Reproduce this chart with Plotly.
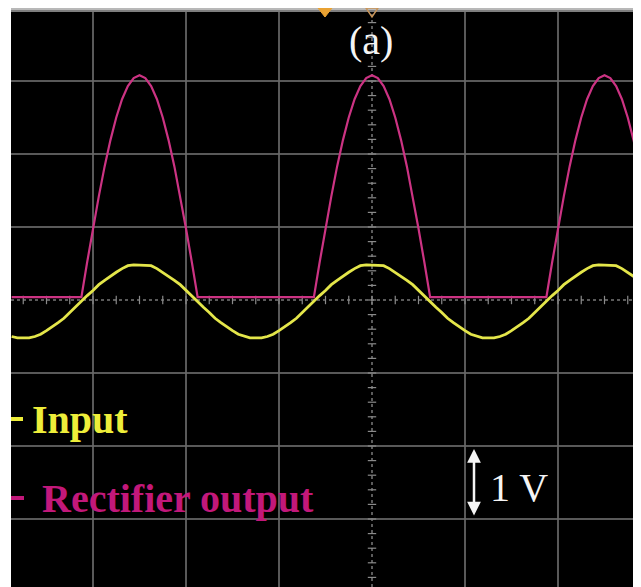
import numpy as np
import plotly.graph_objects as go

# ---------------- data (in divisions) ----------------
t_div = [
    -3.875, -3.8125, -3.75, -3.6875, -3.625, -3.5625, -3.5, -3.4375,
    -3.375, -3.3125, -3.25, -3.1875, -3.125, -3.0625, -3.0, -2.9375,
    -2.875, -2.8125, -2.75, -2.6875, -2.625, -2.5625, -2.5, -2.4375,
    -2.375, -2.3125, -2.25, -2.1875, -2.125, -2.0625, -2.0, -1.9375,
    -1.875, -1.8125, -1.75, -1.6875, -1.625, -1.5625, -1.5, -1.4375,
    -1.375, -1.3125, -1.25, -1.1875, -1.125, -1.0625, -1.0, -0.9375,
    -0.875, -0.8125, -0.75, -0.6875, -0.625, -0.5625, -0.5, -0.4375,
    -0.375, -0.3125, -0.25, -0.1875, -0.125, -0.0625, 0.0, 0.0625,
    0.125, 0.1875, 0.25, 0.3125, 0.375, 0.4375, 0.5, 0.5625,
    0.625, 0.6875, 0.75, 0.8125, 0.875, 0.9375, 1.0, 1.0625,
    1.125, 1.1875, 1.25, 1.3125, 1.375, 1.4375, 1.5, 1.5625,
    1.625, 1.6875, 1.75, 1.8125, 1.875, 1.9375, 2.0, 2.0625,
    2.125, 2.1875, 2.25, 2.3125, 2.375, 2.4375, 2.5, 2.5625,
    2.625, 2.6875, 2.75, 2.8125, 2.875,
]

input_v = [
    -0.50, -0.52, -0.52,
    -0.52, -0.50, -0.47, -0.42, -0.37, -0.31, -0.25, -0.17, -0.10, -0.02,
    0.06, 0.13, 0.21, 0.27, 0.33, 0.38, 0.43, 0.47, 0.48, 0.48,
    0.48, 0.47, 0.43, 0.38, 0.33, 0.27, 0.21, 0.13, 0.06, -0.02,
    -0.10, -0.17, -0.25, -0.31, -0.37, -0.42, -0.47, -0.50, -0.52, -0.52,
    -0.52, -0.50, -0.47, -0.42, -0.37, -0.31, -0.25, -0.17, -0.10, -0.02,
    0.06, 0.13, 0.21, 0.27, 0.33, 0.38, 0.43, 0.47, 0.48, 0.48,
    0.48, 0.47, 0.43, 0.38, 0.33, 0.27, 0.21, 0.13, 0.06, -0.02,
    -0.10, -0.17, -0.25, -0.31, -0.37, -0.42, -0.47, -0.50, -0.52, -0.52,
    -0.52, -0.50, -0.47, -0.42, -0.37, -0.31, -0.25, -0.17, -0.10, -0.02,
    0.06, 0.13, 0.21, 0.27, 0.33, 0.38, 0.43, 0.47, 0.48, 0.48,
    0.48, 0.47, 0.43, 0.38, 0.33, 0.27,
]

rectifier_v = [
    0.04, 0.04, 0.04,
    0.04, 0.04, 0.04, 0.04, 0.04, 0.04, 0.04, 0.04, 0.04, 0.04,
    0.52, 0.98, 1.42, 1.83, 2.19, 2.50, 2.75, 2.93, 3.04, 3.08,
    3.04, 2.93, 2.75, 2.50, 2.19, 1.83, 1.42, 0.98, 0.52, 0.04,
    0.04, 0.04, 0.04, 0.04, 0.04, 0.04, 0.04, 0.04, 0.04, 0.04,
    0.04, 0.04, 0.04, 0.04, 0.04, 0.04, 0.04, 0.04, 0.04, 0.04,
    0.52, 0.98, 1.42, 1.83, 2.19, 2.50, 2.75, 2.93, 3.04, 3.08,
    3.04, 2.93, 2.75, 2.50, 2.19, 1.83, 1.42, 0.98, 0.52, 0.04,
    0.04, 0.04, 0.04, 0.04, 0.04, 0.04, 0.04, 0.04, 0.04, 0.04,
    0.04, 0.04, 0.04, 0.04, 0.04, 0.04, 0.04, 0.04, 0.04, 0.04,
    0.52, 0.98, 1.42, 1.83, 2.19, 2.50, 2.75, 2.93, 3.04, 3.08,
    3.04, 2.93, 2.75, 2.50, 2.19, 1.83,
]

series_names = ["Input", "Rectifier output"]
title_text = "(a)"
scale_text = "1 V"

# ---------------- styling ----------------
# page coordinates: the figure div sits at an 8px body offset in the page
OFF = 8
PAGE_W, PAGE_H = 641, 587
PL, PT = 11, 12                 # plot area top-left in page pixels
PW, PH = PAGE_W - PL, PAGE_H - PT
W, H = PAGE_W - OFF, PAGE_H - OFF
ML, MT = PL - OFF, PT - OFF

def px(xp):
    return (xp - PL) / PW

def py(yp):
    return (PAGE_H - yp) / PH

YELLOW = "#e4e64a"
MAGENTA = "#cc3383"
GRID = "rgba(105,105,105,0.85)"
SERIF = "Liberation Serif, Times New Roman, serif"

fig = go.Figure()

# center graticule tick marks (decoration)
xt = np.arange(-3.75, 2.9, 0.25)
yt = np.arange(-3.8, 3.9, 0.2)
fig.add_trace(go.Scatter(x=xt, y=np.zeros_like(xt), mode="markers", hoverinfo="skip",
                         marker=dict(symbol="line-ns", size=6, line=dict(width=1.2, color="#8a8a8a")),
                         showlegend=False))
fig.add_trace(go.Scatter(x=np.zeros_like(yt), y=yt, mode="markers", hoverinfo="skip",
                         marker=dict(symbol="line-ew", size=6, line=dict(width=1.2, color="#8a8a8a")),
                         showlegend=False))

fig.add_trace(go.Scatter(x=t_div, y=rectifier_v, mode="lines", name=series_names[1],
                         line=dict(color=MAGENTA, width=2.2), showlegend=False))
fig.add_trace(go.Scatter(x=t_div, y=input_v, mode="lines", name=series_names[0],
                         line=dict(color=YELLOW, width=2.8), showlegend=False))

shapes = [
    dict(type="line", xref="x", yref="paper", x0=0, x1=0, y0=0, y1=1,
         line=dict(color="#7a7a7a", width=1.5, dash="dot"), layer="below"),
    dict(type="line", xref="paper", yref="y", x0=0, x1=1, y0=0, y1=0,
         line=dict(color="#7a7a7a", width=1.5, dash="dot"), layer="below"),
    # top bezel band
    dict(type="rect", xref="paper", yref="paper", x0=0, x1=1, y0=py(12), y1=py(10),
         fillcolor="#7e7e7e", line=dict(width=0)),
    dict(type="rect", xref="paper", yref="paper", x0=0, x1=1, y0=py(10), y1=py(8),
         fillcolor="#b8b8b8", line=dict(width=0)),
    # trigger markers
    dict(type="path", xref="paper", yref="paper",
         path=f"M {px(318)},{py(8)} L {px(332)},{py(8)} L {px(325)},{py(17)} Z",
         fillcolor="#e9a232", line=dict(color="#e9a232", width=1)),
    dict(type="path", xref="paper", yref="paper",
         path=f"M {px(366)},{py(8)} L {px(378)},{py(8)} L {px(372)},{py(17)} Z",
         fillcolor="rgba(0,0,0,0)", line=dict(color="#c89458", width=1.5)),
    # legend dashes
    dict(type="line", xref="paper", yref="paper", x0=px(11), x1=px(23), y0=py(419), y1=py(419),
         line=dict(color="#eeee3a", width=4)),
    dict(type="line", xref="paper", yref="paper", x0=px(11), x1=px(24), y0=py(498), y1=py(498),
         line=dict(color="#c2187a", width=4)),
]

annotations = [
    dict(text=title_text, xref="paper", yref="paper", x=px(371), y=py(41),
         xanchor="center", yanchor="middle", showarrow=False,
         font=dict(family=SERIF, size=40, color="#f4f4f4")),
    dict(text="<b>" + series_names[0] + "</b>", xref="paper", yref="paper", x=px(30), y=py(419),
         xanchor="left", yanchor="middle", showarrow=False,
         font=dict(family=SERIF, size=40, color="#eeee3a")),
    dict(text="<b>" + series_names[1] + "</b>", xref="paper", yref="paper", x=px(40), y=py(498),
         xanchor="left", yanchor="middle", showarrow=False,
         font=dict(family=SERIF, size=40, color="#c2187a")),
    dict(text=scale_text, xref="paper", yref="paper", x=px(488), y=py(487),
         xanchor="left", yanchor="middle", showarrow=False,
         font=dict(family=SERIF, size=40, color="#f4f4f4")),
    dict(text="", xref="paper", yref="paper", x=px(474), y=py(449),
         ax=0, ay=68, showarrow=True, arrowhead=2, arrowside="end+start",
         arrowsize=1.1, arrowwidth=2.5, arrowcolor="#f4f4f4", standoff=0, startstandoff=0),
]

fig.update_layout(
    width=W, height=H, autosize=False,
    margin=dict(l=ML, r=0, t=MT, b=0, pad=0),
    paper_bgcolor="white", plot_bgcolor="black",
    showlegend=False,
    shapes=shapes, annotations=annotations,
    xaxis=dict(range=[(11 - 372) / 93, (641 - 372) / 93], tickvals=[-3, -2, -1, 1, 2],
               showgrid=True, gridcolor=GRID, gridwidth=1.5, zeroline=False,
               showticklabels=False, ticks="", showline=False, fixedrange=True),
    yaxis=dict(range=[(300 - 587) / 73, (300 - 12) / 73], tickvals=[-3, -2, -1, 1, 2, 3],
               showgrid=True, gridcolor=GRID, gridwidth=1.5, zeroline=False,
               showticklabels=False, ticks="", showline=False, fixedrange=True),
)

fig.write_html("out.html", config={"displayModeBar": False})
